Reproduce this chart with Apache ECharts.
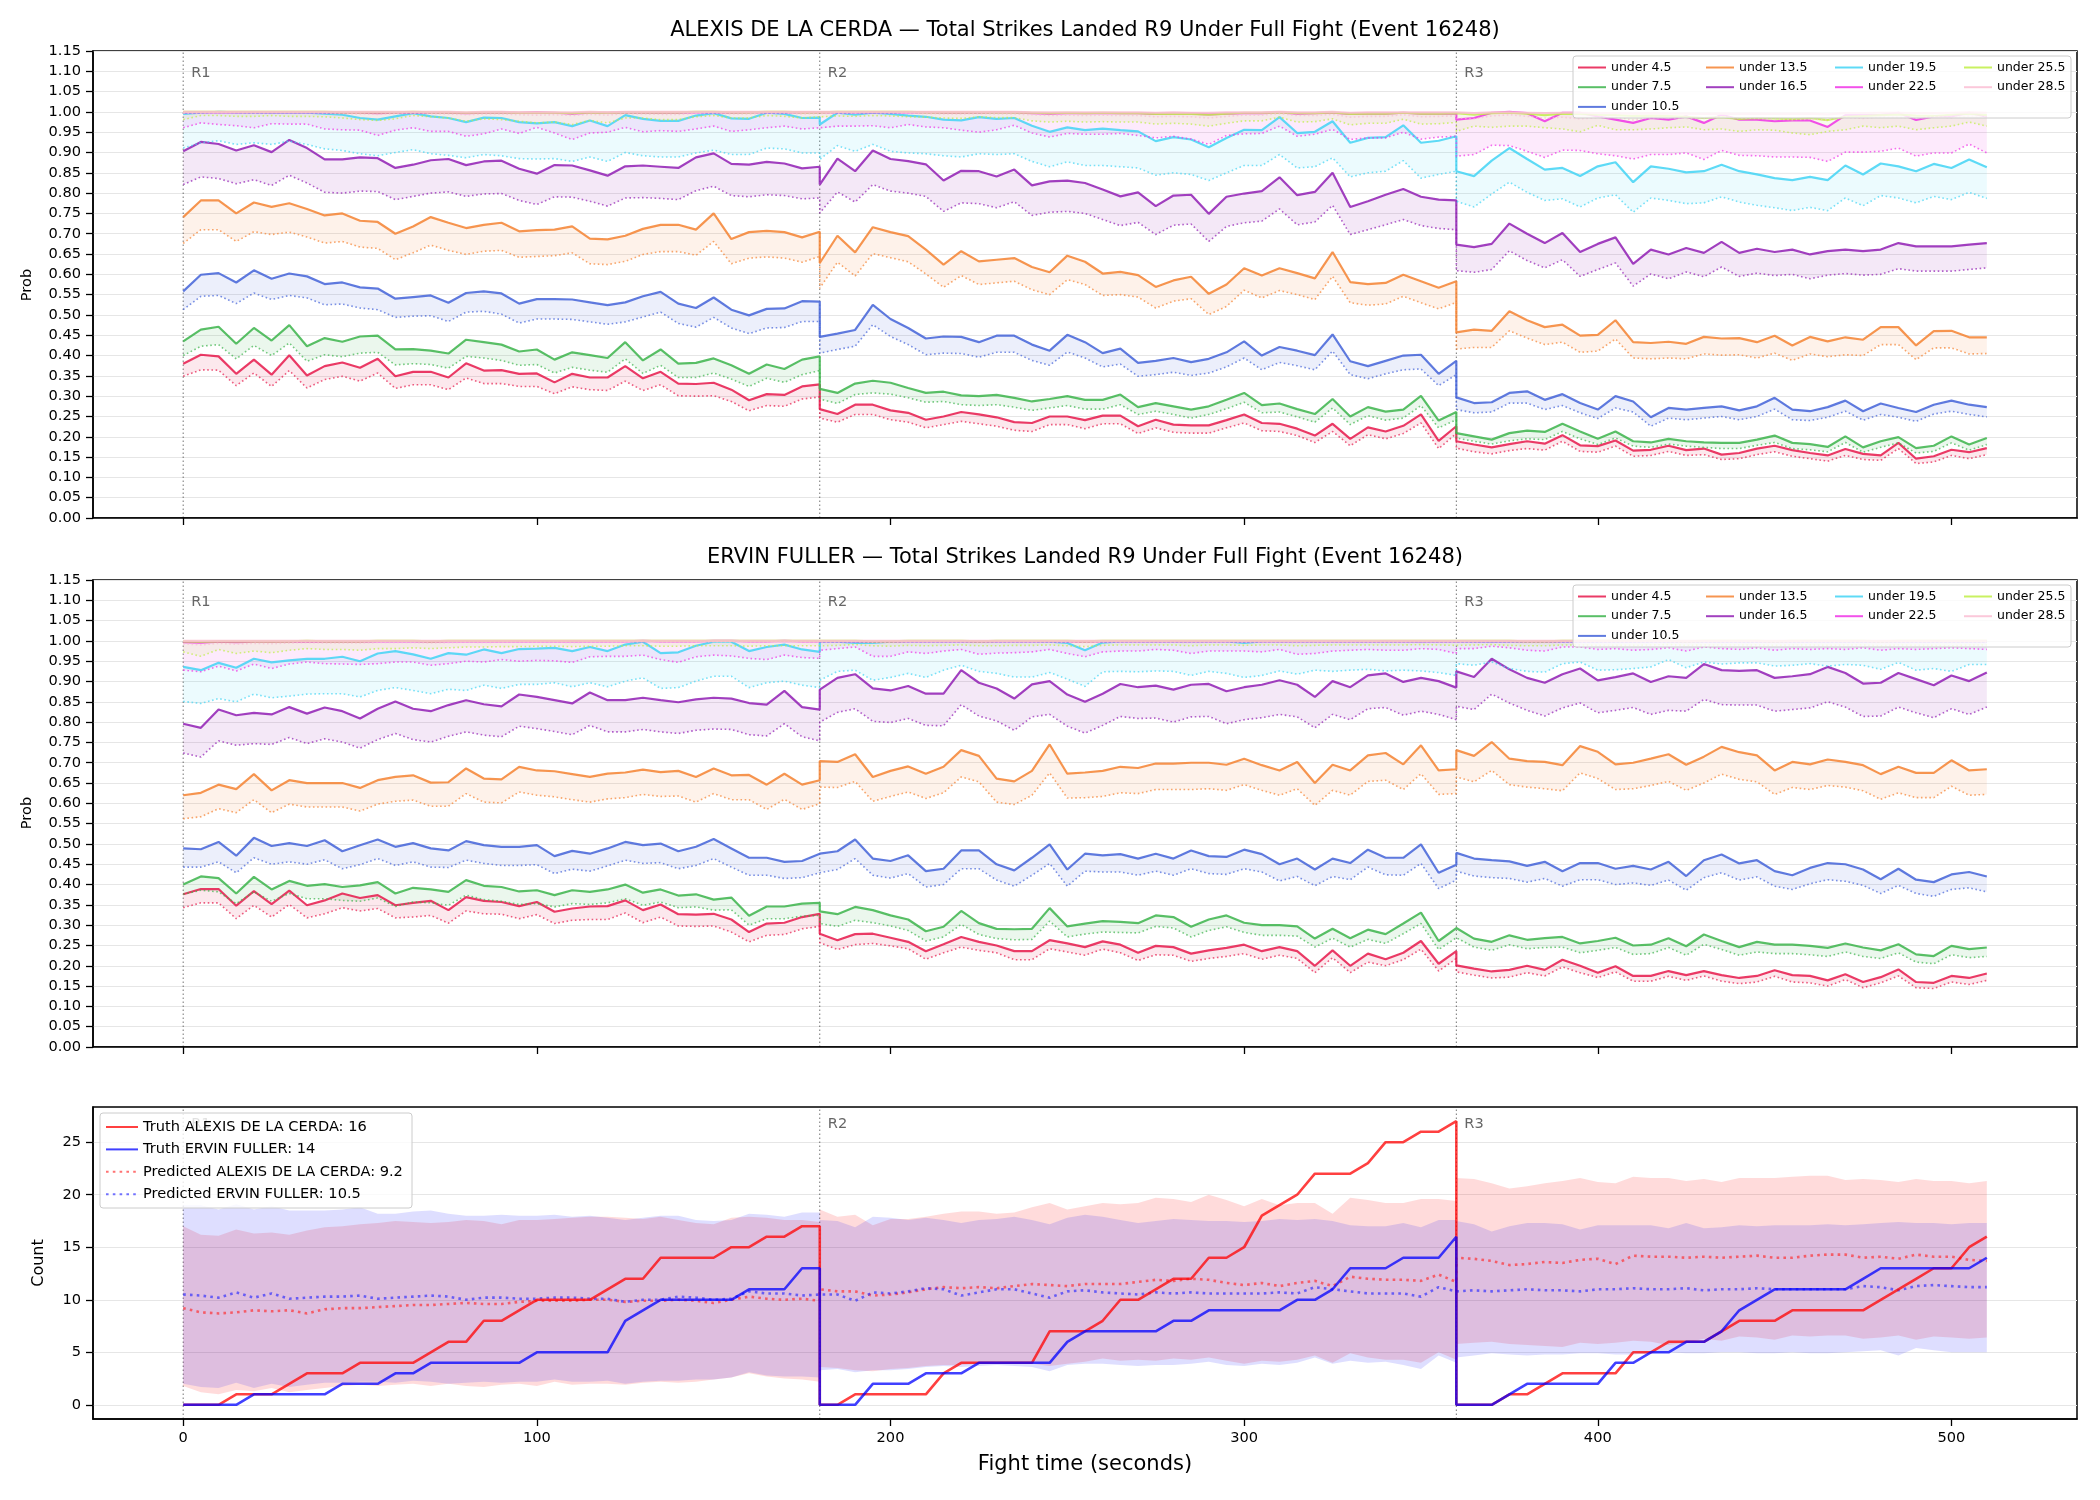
<!DOCTYPE html>
<html>
<head>
<meta charset="utf-8">
<title>Total Strikes Landed R9 Under — Event 16248</title>
<script src="https://cdn.jsdelivr.net/npm/echarts@6/dist/echarts.min.js"></script>
<style>
  html, body { margin: 0; padding: 0; background: #fff; }
  #chart { width: 2100px; height: 1500px; }
</style>
</head>
<body>
<div id="chart"></div>
<script>
// sample every 5 s; each round restarts at its own boundary
const ROUND_START = [0, 180, 360];
const ROUND_POINTS = [37, 37, 31];
const ROUND_LABELS = ['R1', 'R2', 'R3'];
const TIMES = [];
ROUND_START.forEach((s, r) => { for (let k = 0; k < ROUND_POINTS[r]; k++) TIMES.push(s + 5 * k); });

const THRESHOLDS = ['under 4.5', 'under 7.5', 'under 10.5', 'under 13.5', 'under 16.5',
  'under 19.5', 'under 22.5', 'under 25.5', 'under 28.5'];
const COLORS = ['#e6194b', '#3cb44b', '#4363d8', '#f58231', '#911eb4',
  '#42d4f4', '#f032e6', '#bfef45', '#fabed4'];
const X_TICKS = [0, 100, 200, 300, 400, 500];
const COUNT_TICKS = [0, 5, 10, 15, 20, 25];

// ---- ALEXIS DE LA CERDA, P(under) x1000 : solid line / dotted line ----
const A45 = [380,402,398,355,390,353,401,351,374,383,370,392,349,360,360,346,381,363,364,355,356,334,355,346,346,374,344,360,331,330,333,316,290,305,303,324,329,
  268,256,279,279,265,259,242,250,261,255,248,236,234,250,250,241,252,252,226,242,230,228,228,241,255,234,232,220,203,232,195,223,213,227,255,190,226,
  189,181,174,182,189,183,204,179,177,191,166,168,178,167,171,156,160,171,178,167,160,154,170,158,154,185,146,152,168,162,172];
const A45dot = [349,365,364,326,357,324,363,320,341,349,337,357,319,328,328,316,345,331,331,324,324,306,323,316,314,337,314,328,301,300,301,287,264,277,275,293,298,
  246,236,255,255,242,236,222,230,238,232,226,216,213,230,230,220,232,232,208,222,211,209,209,222,234,215,213,203,186,213,178,205,195,208,234,171,208,
  172,163,158,166,171,167,189,164,162,177,152,154,164,154,156,144,146,156,163,152,146,140,154,144,142,171,134,138,154,146,156];
const A75 = [435,464,471,429,468,437,475,423,443,434,447,449,415,416,412,405,439,433,427,410,415,390,408,401,394,433,388,415,380,382,393,376,355,378,367,390,398,
  318,308,331,338,333,320,308,311,302,300,303,296,287,293,300,291,291,304,273,283,275,267,275,291,308,278,282,268,256,293,250,273,262,267,301,240,261,
  209,201,193,209,215,212,232,213,195,213,189,186,195,189,186,185,185,193,203,185,182,175,201,174,189,199,172,178,201,181,197];
const A75dot = [400,423,427,392,425,400,431,386,402,397,406,408,377,380,378,369,398,394,388,376,378,357,371,364,359,392,356,376,346,346,357,342,324,344,334,353,363,
  293,282,304,308,305,296,285,287,279,277,279,273,265,271,277,268,268,279,255,263,255,246,255,269,285,259,261,249,236,271,230,252,241,246,277,222,242,
  197,189,182,190,195,193,213,195,181,197,177,174,182,177,174,171,171,179,186,171,168,163,186,162,174,185,160,164,185,167,181];
const A105 = [558,599,603,580,610,589,602,595,576,580,568,565,540,544,548,530,554,558,553,528,539,539,538,531,524,531,546,557,528,517,543,513,499,515,516,534,533,
  446,454,463,525,490,468,442,447,446,433,449,449,427,412,451,433,406,417,382,387,394,384,392,408,435,400,421,412,401,452,386,374,387,400,402,355,387,
  297,283,285,308,312,291,305,283,267,300,287,248,271,267,271,275,265,275,296,267,263,273,289,263,282,271,261,279,289,279,273];
const A105dot = [513,546,548,528,554,538,548,542,525,527,517,513,494,497,498,484,507,509,502,480,490,490,489,483,477,483,495,507,479,470,494,468,454,468,469,484,484,
  406,415,423,476,447,427,402,406,405,396,408,408,388,376,409,394,372,379,349,353,359,351,357,372,394,365,383,375,365,411,353,343,355,365,367,326,353,
  267,259,261,283,283,267,277,259,245,271,261,226,246,242,246,250,242,250,268,242,240,248,263,241,255,248,238,256,263,255,249];
const A135 = [741,782,782,750,777,766,775,761,745,750,732,729,700,718,741,727,714,722,727,706,709,710,718,688,686,695,712,722,722,710,750,687,704,707,704,691,705,
  628,695,654,716,704,694,661,624,657,632,636,640,618,605,646,631,602,606,598,569,585,594,552,575,615,597,615,603,590,655,581,576,579,599,583,567,583,
  457,464,461,509,487,470,476,449,451,487,433,431,434,429,446,442,443,433,449,425,446,435,445,439,470,470,425,460,461,445,445];
const A135dot = [676,710,710,681,705,698,704,692,677,681,667,664,636,653,672,659,649,657,659,642,644,646,653,626,624,632,649,656,656,647,681,626,640,643,640,630,644,
  566,630,596,651,641,631,601,568,597,575,579,583,562,550,587,575,548,550,544,517,534,540,501,521,561,542,560,550,538,595,530,524,527,546,530,515,531,
  416,420,420,461,443,427,433,408,411,441,394,392,394,392,404,401,402,394,406,388,404,397,402,400,427,427,390,419,419,404,405];
const A165 = [903,926,921,905,918,901,931,911,883,883,888,886,862,870,881,884,869,878,880,860,848,869,868,856,843,866,868,865,862,888,898,872,870,877,873,861,865,
  821,885,854,905,884,879,871,831,855,854,841,858,819,829,831,825,809,792,802,768,794,796,749,791,799,805,839,795,803,850,766,780,796,810,791,784,782,
  673,667,675,725,700,677,702,655,675,691,626,661,649,665,653,680,653,663,655,661,649,657,661,657,661,677,669,669,669,673,677];
const A165dot = [821,840,836,823,833,819,844,825,802,800,805,804,784,792,800,803,792,798,799,782,772,791,790,780,768,788,789,787,784,806,817,794,791,796,794,786,788,
  751,803,778,821,805,800,792,755,776,774,764,779,745,753,755,750,735,720,728,698,721,724,681,718,727,731,761,722,729,770,698,710,722,735,720,713,710,
  609,605,612,658,634,616,636,595,612,628,571,601,589,606,594,618,595,603,597,600,589,598,602,598,600,614,608,608,608,612,616];
const A195 = [995,998,1000,999,998,998,998,998,996,993,985,981,989,997,989,985,975,986,985,975,972,975,965,979,965,992,983,978,978,991,997,984,983,998,995,985,986,
  969,998,993,998,995,991,988,981,979,987,983,985,966,951,962,955,959,955,952,928,938,932,913,936,956,955,987,948,951,977,924,936,938,967,924,929,940,
  854,842,880,911,884,858,862,842,866,876,827,866,860,851,854,870,854,846,837,832,840,832,868,846,873,866,854,872,862,883,864];
const A195dot = [911,924,929,920,924,920,928,920,909,905,897,892,900,907,897,893,887,895,892,885,884,885,878,889,878,900,892,889,889,899,906,895,895,911,909,899,899,
  883,917,903,920,903,899,897,892,889,897,895,897,878,865,877,868,868,865,862,844,850,846,831,850,868,868,895,862,865,887,840,850,854,880,837,846,854,
  780,766,798,827,802,782,786,766,788,796,753,788,782,774,776,791,778,770,764,757,765,757,788,769,794,788,776,792,784,802,787];
const A225 = [999,999,999,999,999,999,999,999,999,998,998,997,998,999,998,998,997,998,999,998,999,998,996,998,998,999,998,998,998,999,999,998,999,999,999,999,999,
  999,999,999,999,999,999,999,998,998,998,999,999,997,996,997,997,997,997,997,995,996,996,994,996,997,997,999,996,997,998,995,996,996,998,996,996,996,
  981,985,998,1000,997,977,998,998,989,981,973,985,981,989,973,993,981,981,977,979,979,963,992,992,993,998,980,989,989,998,988];
const A225dot = [961,973,969,966,961,971,970,970,958,956,955,942,955,961,952,952,940,946,958,947,962,948,932,948,950,962,951,954,952,958,965,952,956,961,965,958,961,
  958,965,965,966,961,969,963,961,955,950,956,967,948,938,947,945,945,947,942,936,940,933,920,942,946,947,965,940,945,957,932,936,936,950,933,938,940,
  891,895,918,917,903,888,906,905,897,892,884,895,895,899,883,905,893,892,889,889,888,878,901,901,903,911,891,899,899,921,899];
const A255 = [1000,1000,1000,1000,1000,1000,1000,1000,1000,999,999,999,999,1000,999,999,998,999,999,998,998,998,997,999,998,999,999,999,999,1000,1000,999,999,1000,1000,999,999,
  999,1000,1000,1000,1000,1000,999,999,999,999,999,999,998,997,998,997,998,997,997,995,996,995,993,996,998,998,999,997,997,999,995,996,996,998,996,996,997,
  995,993,997,998,996,992,996,995,993,992,990,991,990,988,985,987,983,985,984,982,985,980,988,990,992,994,991,990,993,996,992];
const A255dot = [981,991,991,989,989,991,989,989,988,985,981,979,983,991,988,985,977,983,981,977,973,975,969,979,973,985,985,981,981,988,991,985,985,991,989,985,988,
  985,990,989,991,990,988,987,985,984,988,986,986,978,975,977,975,976,975,975,970,972,970,965,972,978,978,987,975,976,983,968,972,972,982,970,971,974,
  952,965,962,965,965,961,958,951,967,956,956,958,961,963,956,958,952,956,955,948,944,952,956,965,961,965,956,961,965,975,965];
const A285 = [1000,1000,1000,1000,1000,1000,1000,1000,1000,1000,1000,1000,1000,1000,1000,1000,999,1000,1000,999,999,999,999,1000,999,1000,1000,1000,1000,1000,1000,1000,1000,1000,1000,1000,1000,
  1000,1000,1000,1000,1000,1000,1000,1000,1000,1000,1000,1000,999,999,999,999,999,999,999,998,999,998,998,999,999,999,1000,999,999,1000,998,999,999,999,999,999,999,
  998,997,999,999,998,997,998,998,997,997,996,997,996,996,995,996,995,996,995,995,996,994,997,997,998,998,997,997,998,999,998];
const A285dot = [997,997,998,998,997,998,998,998,997,996,995,994,996,997,996,995,993,995,995,993,992,993,991,994,992,996,995,994,994,996,997,995,995,997,997,995,996,
  995,997,997,998,997,997,996,995,995,996,995,995,993,991,992,991,992,991,991,988,989,988,985,989,992,992,996,991,991,994,987,989,989,993,988,989,990,
  985,983,990,993,989,985,987,983,986,987,980,986,986,984,984,988,985,984,982,981,982,980,987,984,988,987,985,988,986,990,987];

// ---- ERVIN FULLER, P(under) x1000 : solid line / dotted line ----
const E45 = [376,389,389,348,384,352,385,349,361,378,367,374,349,355,360,337,369,360,357,347,357,333,341,346,347,361,337,351,327,326,328,314,283,304,306,320,328,
  279,263,278,279,269,259,236,253,271,259,250,236,236,263,255,246,260,252,232,249,246,230,238,244,252,236,246,236,200,238,200,230,216,232,261,205,236,
  201,193,186,190,200,190,215,200,183,199,175,175,187,177,187,177,170,175,189,177,175,164,179,160,172,191,160,158,175,170,181];
const E45dot = [343,355,355,316,349,320,351,318,328,343,335,341,318,320,324,305,335,328,327,316,326,304,312,314,314,330,306,320,298,297,298,283,259,275,277,291,297,
  257,240,252,255,249,242,216,232,246,238,232,215,215,242,234,226,241,232,213,227,226,211,218,223,230,216,226,218,183,220,183,209,200,215,241,187,218,
  185,177,170,172,183,175,197,183,171,185,162,162,174,164,175,162,156,160,174,160,158,150,166,146,158,175,146,144,160,154,164];
const E75 = [400,420,416,378,419,388,409,397,401,394,398,406,378,392,388,382,411,397,394,383,386,374,386,382,388,400,380,388,373,376,363,368,323,346,346,353,355,
  334,327,345,337,324,314,285,296,335,305,291,290,291,342,297,304,310,308,305,324,320,296,314,324,306,300,300,297,267,291,268,289,278,304,331,261,293,
  293,267,259,275,264,268,271,255,261,269,250,252,268,248,277,261,246,259,252,252,249,244,255,245,238,253,228,224,249,241,245];
const E75dot = [376,386,382,353,382,359,378,365,365,361,359,367,346,357,355,349,374,363,359,351,353,345,353,351,355,365,349,357,343,345,337,338,300,316,316,322,324,
  304,297,312,306,298,287,261,271,302,277,267,264,265,310,271,278,283,282,281,297,293,271,287,296,282,275,275,273,246,268,246,265,255,279,304,240,269,
  267,246,238,252,242,245,246,232,238,245,228,230,245,226,253,240,226,234,230,230,227,223,234,223,218,232,209,205,227,220,223];
const E105 = [489,487,505,471,515,495,502,495,509,482,497,511,493,502,489,484,507,497,493,493,497,470,483,476,489,505,497,501,482,493,512,489,466,466,456,458,476,
  476,482,511,464,458,472,433,439,484,484,450,435,466,499,437,476,472,475,464,476,464,484,470,468,486,475,450,464,437,464,453,486,466,466,499,429,449,
  478,464,460,457,446,456,433,453,453,439,446,437,456,421,460,474,452,460,433,423,441,453,450,437,413,439,412,406,425,431,420];
const E105dot = [443,443,456,429,466,450,456,450,461,439,449,464,447,456,443,442,460,452,447,447,449,427,438,433,446,460,452,454,439,447,464,443,423,423,415,417,429,
  431,437,464,423,416,427,394,400,439,439,411,396,423,452,396,433,431,431,423,433,423,439,427,425,439,431,409,420,397,420,412,443,424,423,452,390,411,
  433,421,417,415,406,415,396,412,412,400,404,398,411,386,417,429,411,419,396,388,402,412,408,398,378,398,378,371,388,392,382];
const E135 = [620,626,646,635,672,632,657,650,650,650,638,657,665,669,651,652,686,661,659,690,681,679,672,665,673,676,683,677,680,665,686,669,670,646,673,646,657,
  704,702,721,665,680,691,673,690,731,717,661,654,680,745,673,676,680,690,687,698,698,700,700,695,710,694,681,702,650,695,681,718,724,696,743,681,684,
  731,717,751,710,704,702,694,741,727,696,700,710,721,695,715,739,726,718,681,702,696,708,702,694,672,690,675,675,706,681,684];
const E135dot = [562,567,587,577,609,577,598,591,591,591,581,598,605,608,593,593,624,603,601,628,620,616,609,603,611,614,622,617,618,603,624,609,609,585,610,585,599,
  640,639,654,605,617,628,612,626,665,653,603,597,620,675,613,614,617,626,624,634,634,634,636,632,646,632,620,636,595,632,620,654,657,634,673,622,624,
  665,653,681,646,640,636,631,675,661,634,636,644,654,632,650,672,659,653,622,639,634,644,640,631,610,626,614,614,642,620,622];
const E165 = [796,786,831,817,823,819,837,821,836,827,809,833,851,833,827,842,854,844,839,868,862,854,846,873,854,854,860,854,849,856,860,858,847,843,877,837,831,
  880,909,918,883,878,889,870,870,928,897,883,858,893,901,868,850,870,894,886,890,880,892,894,876,886,892,903,892,862,901,886,915,920,899,909,901,885,
  925,911,956,930,909,897,918,932,903,911,920,899,913,909,943,928,926,928,909,913,918,936,921,895,897,921,906,891,915,901,922];
const E165dot = [724,714,754,743,747,745,762,747,759,751,736,757,772,757,751,765,776,768,764,790,784,777,769,792,776,776,782,776,772,780,783,782,769,766,796,764,754,
  800,824,833,802,799,809,792,791,843,815,803,780,813,819,790,773,792,814,809,810,800,813,814,796,806,811,819,813,786,819,806,833,836,817,827,819,806,
  839,831,869,847,829,815,835,847,823,829,836,819,829,827,856,843,842,842,827,831,835,850,837,814,815,837,823,811,833,819,837];
const E195 = [936,928,946,934,956,947,952,956,956,961,950,969,975,967,956,970,966,979,970,980,981,983,975,985,975,991,998,970,972,988,998,998,975,985,991,979,973,
  998,998,995,995,998,999,999,999,999,999,999,999,999,998,995,977,996,999,999,999,999,999,999,999,995,999,999,999,999,999,999,999,999,999,999,999,999,
  998,998,998,998,998,998,998,998,998,998,998,998,998,998,998,998,998,998,998,998,998,998,998,998,998,998,998,998,998,998,998];
const E195dot = [851,846,858,850,869,860,864,869,870,870,862,878,885,878,870,881,878,891,883,893,893,897,887,897,887,901,909,883,885,901,913,913,885,897,901,891,885,
  903,925,928,903,910,920,910,928,940,925,920,911,911,922,906,888,924,925,924,926,925,915,925,920,910,915,926,918,928,925,928,930,926,928,926,922,915,
  944,940,948,932,925,923,944,948,928,929,932,936,954,934,948,943,946,946,938,940,944,938,942,940,930,947,928,932,925,942,942];
const E225 = [997,996,998,997,998,998,998,999,998,998,998,999,999,999,998,999,999,999,999,999,999,999,999,999,999,999,1000,999,999,999,1000,1000,999,999,1000,999,999,
  999,999,999,998,998,999,999,999,999,998,999,999,999,999,999,998,999,999,999,999,999,999,999,999,999,999,999,999,999,999,999,999,999,999,999,999,999,
  999,999,999,999,998,998,999,999,999,999,999,999,999,998,999,999,999,999,998,999,999,999,999,999,998,999,999,999,999,999,999];
const E225dot = [928,924,938,926,943,932,943,948,944,943,942,944,948,948,940,944,950,948,954,950,952,951,947,961,962,962,965,954,947,961,965,963,957,954,965,959,957,
  977,981,985,962,962,973,969,975,979,967,970,971,973,979,969,961,973,975,975,979,977,969,975,975,975,973,979,967,969,975,977,979,977,977,981,979,969,
  981,981,987,983,977,975,985,985,979,981,977,979,983,975,985,981,979,983,977,981,979,981,979,983,977,981,979,981,983,981,979];
const E255 = [999,998,999,999,999,999,999,1000,999,999,999,1000,1000,1000,999,1000,1000,1000,1000,1000,1000,1000,1000,1000,1000,1000,1000,1000,1000,1000,1000,1000,1000,1000,1000,1000,1000,
  1000,1000,1000,999,999,1000,1000,1000,1000,999,1000,1000,1000,1000,1000,999,1000,1000,1000,1000,1000,1000,1000,1000,1000,1000,1000,1000,1000,1000,1000,1000,1000,1000,1000,1000,1000,
  1000,1000,1000,1000,999,999,1000,1000,1000,1000,1000,1000,1000,999,1000,1000,1000,1000,999,1000,1000,1000,1000,1000,999,1000,1000,1000,1000,1000,1000];
const E255dot = [973,962,979,969,975,971,977,981,979,979,977,981,981,983,981,983,985,985,986,986,987,987,986,987,987,988,988,987,987,988,988,988,987,988,988,988,988,
  990,989,991,988,987,989,988,989,990,988,988,989,989,990,988,986,989,990,990,990,990,988,990,990,989,990,990,988,989,990,990,990,990,990,991,990,989,
  990,990,991,989,988,988,990,990,989,989,989,990,991,989,990,990,990,990,989,990,990,989,990,990,988,990,989,989,988,990,990];
const E285 = [1000,1000,1000,1000,1000,1000,1000,1000,1000,1000,1000,1000,1000,1000,1000,1000,1000,1000,1000,1000,1000,1000,1000,1000,1000,1000,1000,1000,1000,1000,1000,1000,1000,1000,1000,1000,1000,
  1000,1000,1000,1000,1000,1000,1000,1000,1000,1000,1000,1000,1000,1000,1000,1000,1000,1000,1000,1000,1000,1000,1000,1000,1000,1000,1000,1000,1000,1000,1000,1000,1000,1000,1000,1000,1000,
  1000,1000,1000,1000,1000,1000,1000,1000,1000,1000,1000,1000,1000,1000,1000,1000,1000,1000,1000,1000,1000,1000,1000,1000,1000,1000,1000,1000,1000,1000,1000];
const E285dot = [993,990,994,992,994,993,995,996,995,995,995,996,996,996,995,996,997,996,997,997,997,997,996,997,997,997,998,997,997,997,998,998,997,997,998,997,997,
  997,997,998,996,996,997,997,997,997,996,997,997,997,997,997,996,997,997,997,997,997,996,997,997,997,997,997,996,997,997,997,997,997,997,998,997,997,
  997,997,998,997,996,996,997,997,997,997,997,997,997,996,997,997,997,997,996,997,997,997,997,997,996,997,997,997,996,997,997];

const ALEXIS_SOLID = [A45, A75, A105, A135, A165, A195, A225, A255, A285];
const ALEXIS_DOT = [A45dot, A75dot, A105dot, A135dot, A165dot, A195dot, A225dot, A255dot, A285dot];
const ERVIN_SOLID = [E45, E75, E105, E135, E165, E195, E225, E255, E285];
const ERVIN_DOT = [E45dot, E75dot, E105dot, E135dot, E165dot, E195dot, E225dot, E255dot, E285dot];

// ---- cumulative strike counts ----
const TRUTH_ALEXIS = [0,0,0,1,1,1,2,3,3,3,4,4,4,4,5,6,6,8,8,9,10,10,10,10,11,12,12,14,14,14,14,15,15,16,16,17,17,
  0,0,1,1,1,1,1,3,4,4,4,4,4,7,7,7,8,10,10,11,12,12,14,14,15,18,19,20,22,22,22,23,25,25,26,26,27,
  0,0,0,1,1,2,3,3,3,3,5,5,6,6,6,7,8,8,8,9,9,9,9,9,10,11,12,13,13,15,16];
const TRUTH_ERVIN = [0,0,0,0,1,1,1,1,1,2,2,2,3,3,4,4,4,4,4,4,5,5,5,5,5,8,9,10,10,10,10,10,11,11,11,13,13,
  0,0,0,2,2,2,3,3,3,4,4,4,4,4,6,7,7,7,7,7,8,8,9,9,9,9,9,10,10,11,13,13,13,14,14,14,16,
  0,0,0,1,2,2,2,2,2,4,4,5,5,6,6,7,9,10,11,11,11,11,11,12,13,13,13,13,13,13,14];
const PRED_ALEXIS = [9.2,8.8,8.7,8.8,9.0,8.9,9.0,8.7,9.1,9.2,9.2,9.3,9.4,9.5,9.5,9.6,9.7,9.6,9.6,9.8,9.9,9.9,9.9,10.0,10.0,9.8,9.9,9.9,10.0,9.9,9.7,10.0,10.3,10.1,10.0,10.1,9.9,
  11.0,10.8,10.8,10.4,10.5,10.7,11.0,11.2,11.1,11.2,11.1,11.3,11.5,11.4,11.3,11.5,11.5,11.5,11.7,11.9,11.8,12.0,11.9,11.6,11.4,11.6,11.3,11.6,11.8,11.3,12.2,12.0,11.9,11.9,11.8,12.4,11.7,
  14.0,13.9,13.7,13.3,13.4,13.6,13.5,13.8,13.9,13.4,14.2,14.1,14.1,14.0,14.1,14.0,14.1,14.2,14.0,14.0,14.2,14.3,14.3,14.0,14.1,13.9,14.3,14.1,14.1,13.8,13.7];
const PRED_ERVIN = [10.5,10.4,10.2,10.7,10.2,10.6,10.1,10.2,10.3,10.3,10.4,10.1,10.2,10.3,10.4,10.3,10.0,10.2,10.2,10.1,10.1,10.2,10.2,10.1,10.1,9.8,10.0,10.0,10.3,10.2,10.0,10.1,10.8,10.6,10.6,10.4,10.5,
  10.5,10.5,9.9,10.7,10.6,10.8,11.1,11.0,10.4,10.7,11.0,11.0,10.6,10.2,10.8,10.9,10.7,10.6,10.5,10.7,10.6,10.7,10.6,10.6,10.6,10.6,10.7,10.6,11.2,11.0,10.8,10.6,10.6,10.6,10.3,11.2,10.8,
  10.8,10.9,10.8,10.9,11.0,10.9,10.9,10.8,11.0,11.0,11.1,11.0,11.0,11.1,10.9,11.0,11.0,11.1,11.0,11.0,11.0,11.0,11.0,11.3,11.2,10.9,11.3,11.4,11.3,11.2,11.2];
const ALEXIS_HI = [17.0,16.2,16.1,16.7,16.3,16.4,16.2,16.6,16.9,17.0,17.2,17.3,17.5,17.4,17.3,17.4,17.6,17.5,17.2,17.6,17.6,17.7,17.8,17.9,17.9,17.8,17.7,17.9,17.6,17.3,17.2,17.8,17.9,17.8,17.6,17.6,17.4,
  18.6,17.9,18.1,17.1,17.7,17.7,17.9,18.2,18.4,18.4,18.2,18.3,18.8,19.2,18.6,18.9,19.2,19.1,19.2,19.7,19.6,19.3,20.0,19.5,18.9,19.6,19.0,19.2,19.2,18.2,19.7,19.5,19.2,19.2,19.6,19.6,19.4,
  21.6,21.5,21.1,20.6,20.8,21.1,21.3,21.6,21.2,21.1,21.7,21.6,21.6,21.3,21.5,21.2,21.6,21.6,21.6,21.7,21.8,21.8,21.4,21.5,21.4,21.2,21.5,21.3,21.3,21.1,21.3];
const ALEXIS_LO = [1.8,1.2,1.0,1.4,1.3,1.6,1.2,1.4,1.6,1.8,1.9,1.8,1.9,2.0,1.8,2.0,1.8,1.7,1.9,2.0,1.8,2.2,1.9,2.0,2.0,1.9,2.1,2.2,2.1,2.2,2.4,2.6,3.0,2.7,2.5,2.4,2.2,
  3.6,3.5,3.3,3.2,3.4,3.5,3.7,3.8,3.8,3.9,4.1,4.0,3.9,3.7,3.9,4.1,4.4,4.2,4.3,4.2,4.4,4.3,4.5,4.2,3.9,4.2,4.1,4.3,4.7,4.0,4.9,4.5,4.3,4.3,4.0,5.0,4.3,
  5.8,5.9,6.0,5.8,5.7,5.6,5.5,5.9,5.8,5.9,6.1,6.0,5.7,5.9,6.3,6.1,6.5,6.4,6.2,6.6,6.5,6.6,6.6,6.3,6.4,6.6,6.2,6.5,6.4,6.3,6.4];
const ERVIN_HI = [19.0,19.0,18.6,19.1,18.6,18.9,18.5,18.5,18.5,18.6,18.8,18.2,18.2,18.4,18.5,18.2,18.0,18.0,18.1,18.0,18.0,18.1,17.9,18.0,17.8,17.6,17.8,18.0,18.0,17.6,17.5,17.6,18.2,18.1,17.9,18.3,18.3,
  17.6,17.5,16.9,17.9,17.8,17.6,17.8,17.6,17.3,17.6,17.7,17.9,17.6,17.2,17.8,18.1,17.9,17.6,17.3,17.5,17.7,17.6,17.5,17.5,17.4,17.5,17.7,17.6,17.7,17.5,17.1,17.0,17.0,17.3,16.9,17.6,17.6,
  17.5,17.2,16.5,17.0,17.3,17.3,17.2,16.7,17.1,17.1,17.1,17.1,16.8,17.3,16.8,16.9,17.1,17.0,17.1,17.1,17.1,17.2,17.1,17.2,17.3,17.4,17.3,17.3,17.2,17.3,17.3];
const ERVIN_LO = [2.0,1.7,1.6,2.1,1.6,2.0,1.7,1.9,2.1,2.1,2.2,2.2,2.1,2.3,2.2,2.0,2.1,2.2,2.1,2.2,2.2,2.4,2.2,2.2,2.3,2.0,2.2,2.3,2.3,2.4,2.4,2.6,3.1,2.8,2.7,2.7,2.6,
  3.3,3.4,3.1,3.3,3.3,3.4,3.6,3.7,3.6,3.7,3.8,3.7,3.6,3.2,3.8,3.9,3.9,3.8,3.7,3.8,3.8,3.9,4.1,3.8,3.7,3.9,3.8,4.0,4.5,3.9,4.2,4.0,4.1,3.8,3.4,4.7,4.0,
  4.5,4.7,4.9,4.8,4.7,4.8,4.8,4.9,4.9,4.8,4.8,4.9,5.0,4.9,4.9,5.0,5.0,4.9,4.9,5.0,4.9,4.9,5.0,5.1,5.2,4.7,5.4,5.2,5.0,5.0,5.0];

const FONT = 'DejaVu Sans';

function rgba(hex, a) {
  const n = parseInt(hex.slice(1), 16);
  return `rgba(${(n >> 16) & 255},${(n >> 8) & 255},${n & 255},${a})`;
}

function pairs(arr, scale) {
  return TIMES.map((t, i) => [t, arr[i] / scale]);
}

// filled area between two curves, one polygon per round
function bandSeries(g, hi, lo, scale, fill) {
  return {
    type: 'custom', xAxisIndex: g, yAxisIndex: g, silent: true,
    data: ROUND_START.map(t => [t, 0]),
    renderItem: (params, api) => {
      const r = params.dataIndex;
      let i0 = 0;
      for (let k = 0; k < r; k++) i0 += ROUND_POINTS[k];
      const top = [], bottom = [];
      for (let i = i0; i < i0 + ROUND_POINTS[r]; i++) {
        top.push(api.coord([TIMES[i], hi[i] / scale]));
        bottom.push(api.coord([TIMES[i], lo[i] / scale]));
      }
      return { type: 'polygon', shape: { points: top.concat(bottom.reverse()) }, style: { fill: fill } };
    },
  };
}

// dotted round boundaries with R1/R2/R3 tags
function roundSeries(g, yMin, yMax, yText) {
  return {
    type: 'custom', xAxisIndex: g, yAxisIndex: g, silent: true,
    data: ROUND_START.map(t => [t, yText]),
    renderItem: (params, api) => {
      const t = api.value(0);
      const a = api.coord([t, yMin]);
      const b = api.coord([t, yMax]);
      const c = api.coord([t, yText]);
      return {
        type: 'group',
        children: [
          { type: 'line', shape: { x1: a[0], y1: a[1], x2: b[0], y2: b[1] },
            style: { stroke: 'rgba(0,0,0,0.55)', lineWidth: 1, lineDash: [1.5, 2.5] } },
          { type: 'text', x: c[0] + 8, y: c[1],
            style: { text: ROUND_LABELS[params.dataIndex], fill: '#666', fontSize: 14.6,
              fontFamily: FONT, verticalAlign: 'middle' } },
        ],
      };
    },
  };
}

const series = [
  roundSeries(0, 0, 1.15, 1.096),
  roundSeries(1, 0, 1.15, 1.096),
  roundSeries(2, -1.35, 28.35, 26.75),
];

[[ALEXIS_SOLID, ALEXIS_DOT], [ERVIN_SOLID, ERVIN_DOT]].forEach(([solid, dot], g) => {
  THRESHOLDS.forEach((name, k) => {
    const c = COLORS[k];
    series.push(bandSeries(g, solid[k], dot[k], 1000, rgba(c, 0.1)));
    series.push({
      type: 'line', xAxisIndex: g, yAxisIndex: g, symbol: 'none', silent: true,
      data: pairs(dot[k], 1000), color: rgba(c, 0.7),
      lineStyle: { width: 1.6, type: [1.6, 2.6] },
    });
    series.push({
      name: name, type: 'line', xAxisIndex: g, yAxisIndex: g, symbol: 'none', silent: true,
      data: pairs(solid[k], 1000), color: rgba(c, 0.85),
      lineStyle: { width: 2.2 },
    });
  });
});

series.push(bandSeries(2, ALEXIS_HI, ALEXIS_LO, 1, 'rgba(255,0,0,0.14)'));
series.push(bandSeries(2, ERVIN_HI, ERVIN_LO, 1, 'rgba(0,0,255,0.13)'));
series.push({
  name: 'Predicted ALEXIS DE LA CERDA: 9.2', type: 'line', xAxisIndex: 2, yAxisIndex: 2,
  symbol: 'none', data: pairs(PRED_ALEXIS, 1), color: 'rgba(255,40,40,0.65)',
  lineStyle: { width: 2.6, type: [2.6, 4.2] },
});
series.push({
  name: 'Predicted ERVIN FULLER: 10.5', type: 'line', xAxisIndex: 2, yAxisIndex: 2,
  symbol: 'none', data: pairs(PRED_ERVIN, 1), color: 'rgba(40,40,255,0.65)',
  lineStyle: { width: 2.6, type: [2.6, 4.2] },
});
series.push({
  name: 'Truth ALEXIS DE LA CERDA: 16', type: 'line', xAxisIndex: 2, yAxisIndex: 2,
  symbol: 'none', data: pairs(TRUTH_ALEXIS, 1), color: 'rgba(255,0,0,0.75)',
  lineStyle: { width: 2.6 },
});
series.push({
  name: 'Truth ERVIN FULLER: 14', type: 'line', xAxisIndex: 2, yAxisIndex: 2,
  symbol: 'none', data: pairs(TRUTH_ERVIN, 1), color: 'rgba(0,0,255,0.75)',
  lineStyle: { width: 2.6 },
});

const GRID_TOPS = [51, 580, 1107];
const GRID_HEIGHTS = [467, 467, 312];

function xAxisFor(g) {
  return {
    type: 'value', gridIndex: g, min: -25.5, max: 535.5,
    axisLine: { show: true, onZero: false, lineStyle: { color: '#000', width: 1.5 } },
    axisTick: { show: true, length: 7, customValues: X_TICKS, lineStyle: { color: '#000', width: 1.3 } },
    axisLabel: { show: g === 2, customValues: X_TICKS, margin: 12, fontSize: 14.6, color: '#000', fontFamily: FONT },
    splitLine: { show: false },
  };
}

function probAxis(g) {
  return {
    type: 'value', gridIndex: g, min: 0, max: 1.15, interval: 0.05,
    axisLine: { show: true, onZero: false, lineStyle: { color: '#000', width: 1.5 } },
    axisTick: { show: true, length: 7, lineStyle: { color: '#000', width: 1.3 } },
    axisLabel: { formatter: v => v.toFixed(2), margin: 12, fontSize: 14.6, color: '#000', fontFamily: FONT },
    splitLine: { show: true, lineStyle: { color: '#e6e6e6', width: 1 } },
  };
}

const legendCols = [
  ['under 4.5', 'under 7.5', 'under 10.5'],
  ['under 13.5', 'under 16.5'],
  ['under 19.5', 'under 22.5'],
  ['under 25.5', 'under 28.5'],
];
const LEGEND_COL_X = [1577, 1705, 1834, 1963];
const LEGEND_TOP = [61, 590];

// line-only legend keys: the marker that ECharts adds on line keys is made invisible
const legends = [];
LEGEND_TOP.forEach(top => {
  legendCols.forEach((names, c) => {
    legends.push({
      data: names, orient: 'vertical', left: LEGEND_COL_X[c], top: top, padding: 0,
      itemWidth: 28, itemHeight: 12, itemGap: 6.7, selectedMode: false, z: 60,
      itemStyle: { opacity: 0 },
      textStyle: { fontSize: 12.5, lineHeight: 12, color: '#000', fontFamily: FONT },
    });
  });
});
legends.push({
  data: ['Truth ALEXIS DE LA CERDA: 16', 'Truth ERVIN FULLER: 14',
    'Predicted ALEXIS DE LA CERDA: 9.2', 'Predicted ERVIN FULLER: 10.5'],
  orient: 'vertical', left: 105, top: 1119, padding: 0,
  itemWidth: 32, itemHeight: 16, itemGap: 6.4, selectedMode: false, z: 60,
  itemStyle: { opacity: 0 },
  textStyle: { fontSize: 14.6, lineHeight: 16, color: '#000', fontFamily: FONT },
});

const boxStyle = { fill: 'rgba(255,255,255,0.8)', stroke: '#cccccc', lineWidth: 1 };
const textStyle = (text, size) => ({ text: text, fontSize: size, fontFamily: FONT, fill: '#000', align: 'center', verticalAlign: 'middle' });

const chart = echarts.init(document.getElementById('chart'), null, { renderer: 'canvas' });
chart.setOption({
  animation: false,
  backgroundColor: '#fff',
  textStyle: { fontFamily: FONT },
  grid: GRID_TOPS.map((top, g) => ({
    left: 93, right: 23, top: top, height: GRID_HEIGHTS[g], outerBoundsMode: 'none',
    show: true, borderColor: '#000', borderWidth: 1.5, backgroundColor: 'transparent',
  })),
  xAxis: [xAxisFor(0), xAxisFor(1), xAxisFor(2)],
  yAxis: [
    probAxis(0),
    probAxis(1),
    {
      type: 'value', gridIndex: 2, min: -1.35, max: 28.35, splitNumber: 5,
      axisLine: { show: true, onZero: false, lineStyle: { color: '#000', width: 1.5 } },
      axisTick: { show: true, length: 7, customValues: COUNT_TICKS, lineStyle: { color: '#000', width: 1.3 } },
      axisLabel: { customValues: COUNT_TICKS, margin: 12, fontSize: 14.6, color: '#000', fontFamily: FONT },
      splitLine: { show: true, lineStyle: { color: '#e6e6e6', width: 1 } },
    },
  ],
  legend: legends,
  graphic: [
    { type: 'text', x: 1085, y: 31, style: textStyle('ALEXIS DE LA CERDA — Total Strikes Landed R9 Under Full Fight (Event 16248)', 21) },
    { type: 'text', x: 1085, y: 558, style: textStyle('ERVIN FULLER — Total Strikes Landed R9 Under Full Fight (Event 16248)', 21) },
    { type: 'text', x: 27, y: 285, rotation: Math.PI / 2, style: textStyle('Prob', 14.6) },
    { type: 'text', x: 27, y: 813, rotation: Math.PI / 2, style: textStyle('Prob', 14.6) },
    { type: 'text', x: 39, y: 1263, rotation: Math.PI / 2, style: textStyle('Count', 16) },
    { type: 'text', x: 1085, y: 1465, style: textStyle('Fight time (seconds)', 21) },
    { type: 'rect', z: 50, shape: { x: 1573, y: 56, width: 498, height: 62, r: 3 }, style: boxStyle },
    { type: 'rect', z: 50, shape: { x: 1573, y: 585, width: 498, height: 62, r: 3 }, style: boxStyle },
    { type: 'rect', z: 50, shape: { x: 100, y: 1113, width: 312, height: 95, r: 3 }, style: boxStyle },
  ],
  series: series,
});
</script>
</body>
</html>
